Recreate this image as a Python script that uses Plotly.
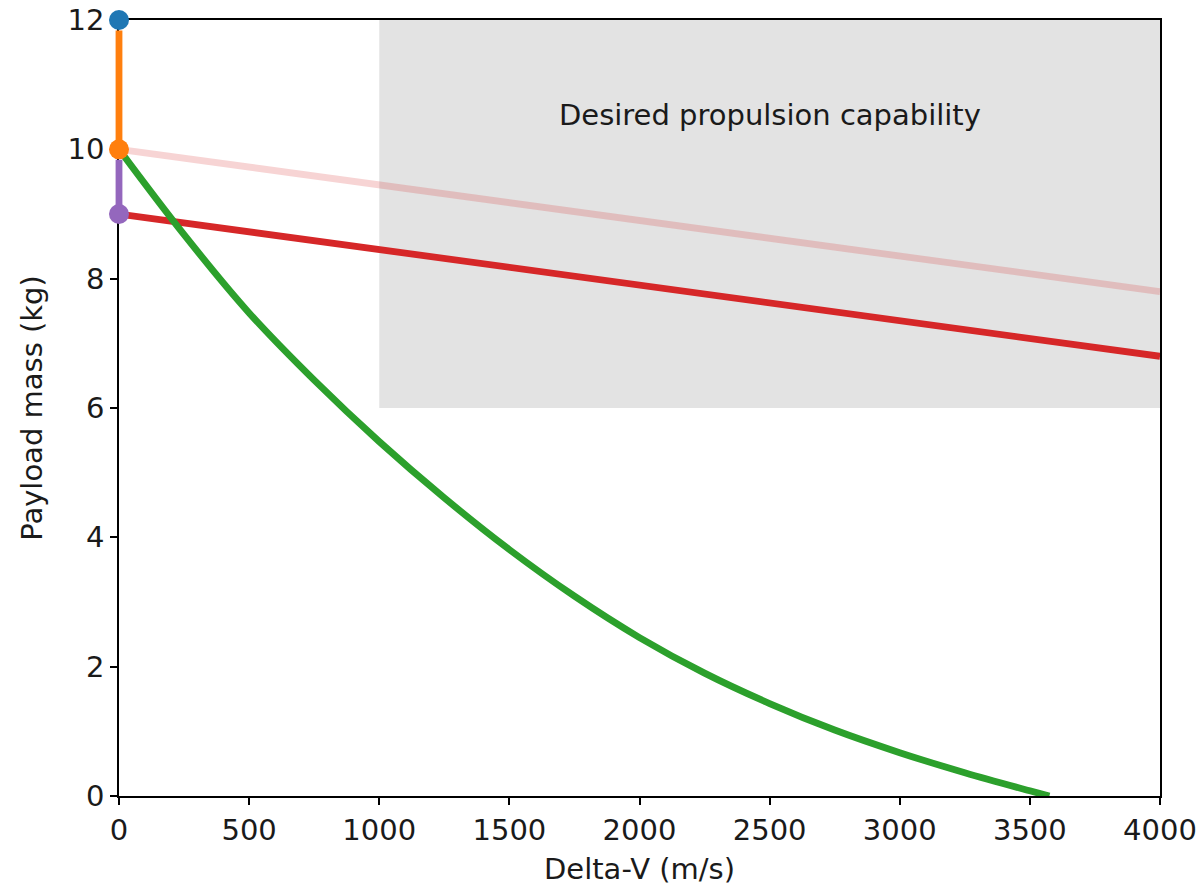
import plotly.graph_objects as go

# Data
green_dv = [0, 250, 500, 750, 1000, 1250, 1500, 1750, 2000, 2250, 2500, 2750, 3000, 3250, 3500, 3575]
green_mass = [10, 8.68, 7.47, 6.43, 5.48, 4.61, 3.81, 3.09, 2.45, 1.90, 1.43, 1.02, 0.67, 0.36, 0.08, 0.0]

red_dv = [0, 4000]
red_mass = [9.0, 6.8]

pink_dv = [0, 4000]
pink_mass = [10.0, 7.8]

# vertical segments at zero delta-V: (delta-V, start mass, end mass)
orange_seg = (0, 12, 10)
purple_seg = (0, 10, 9)

blue_point = (0, 12)
orange_point = (0, 10)
purple_point = (0, 9)

box_x = [1000, 4000]
box_y = [6, 12]
box_label = "Desired propulsion capability"
label_pos = (2500, 10.53)

x_ticks = [0, 500, 1000, 1500, 2000, 2500, 3000, 3500, 4000]
y_ticks = [0, 2, 4, 6, 8, 10, 12]

LW = 6.8
MS = 20
FS = 29
FONT = "DejaVu Sans"
TXT = "#1a1a1a"

fig = go.Figure()

fig.add_shape(type="rect", x0=box_x[0], x1=box_x[1], y0=box_y[0], y1=box_y[1],
              fillcolor="rgb(227,227,227)", line=dict(width=0), layer="below")

fig.add_trace(go.Scatter(x=pink_dv, y=pink_mass, mode="lines", cliponaxis=False,
                         line=dict(color="rgba(214,39,40,0.2)", width=LW)))
fig.add_trace(go.Scatter(x=red_dv, y=red_mass, mode="lines", cliponaxis=False,
                         line=dict(color="#d62728", width=LW)))
fig.add_trace(go.Scatter(x=green_dv, y=green_mass, mode="lines", cliponaxis=False,
                         line=dict(color="#2ca02c", width=LW, shape="spline", smoothing=1.0)))


def vseg(seg, color):
    # drawn as an arrow-less annotation line in data coordinates (not clipped at the axis edge)
    x, y_start, y_end = seg
    fig.add_annotation(x=x, y=y_end, ax=x, ay=y_start, xref="x", yref="y",
                       axref="x", ayref="y", text="", showarrow=True, arrowhead=0,
                       arrowwidth=LW, arrowcolor=color,
                       standoff=MS / 2 - 1, startstandoff=MS / 2 - 1)


vseg(orange_seg, "#ff7f0e")
vseg(purple_seg, "#9467bd")

fig.add_trace(go.Scatter(x=[purple_point[0]], y=[purple_point[1]], mode="markers",
                         marker=dict(color="#9467bd", size=MS), cliponaxis=False))
fig.add_trace(go.Scatter(x=[orange_point[0]], y=[orange_point[1]], mode="markers",
                         marker=dict(color="#ff7f0e", size=MS), cliponaxis=False))
fig.add_trace(go.Scatter(x=[blue_point[0]], y=[blue_point[1]], mode="markers",
                         marker=dict(color="#1f77b4", size=MS), cliponaxis=False))

fig.add_annotation(x=label_pos[0], y=label_pos[1], text=box_label, showarrow=False,
                   font=dict(family=FONT, size=FS, color=TXT),
                   xanchor="center", yanchor="middle")

axis_common = dict(showgrid=False, zeroline=False, showline=True, linecolor="black",
                   linewidth=1.5, mirror=True, ticks="outside", ticklen=7, tickwidth=1.5,
                   tickcolor="black", layer="below traces", automargin=False,
                   tickfont=dict(family=FONT, size=FS, color=TXT))

fig.update_xaxes(range=[0, 4000], tickvals=x_ticks,
                 title=dict(text="Delta-V (m/s)", font=dict(family=FONT, size=FS, color=TXT),
                            standoff=13),
                 **axis_common)
fig.update_yaxes(range=[0, 12], tickvals=y_ticks,
                 title=dict(text="Payload mass (kg)", font=dict(family=FONT, size=FS, color=TXT),
                            standoff=16),
                 **axis_common)

fig.update_layout(width=1199, height=886, showlegend=False,
                  plot_bgcolor="white", paper_bgcolor="white",
                  margin=dict(l=119, r=39, t=20, b=90))

fig.write_html("out.html")
